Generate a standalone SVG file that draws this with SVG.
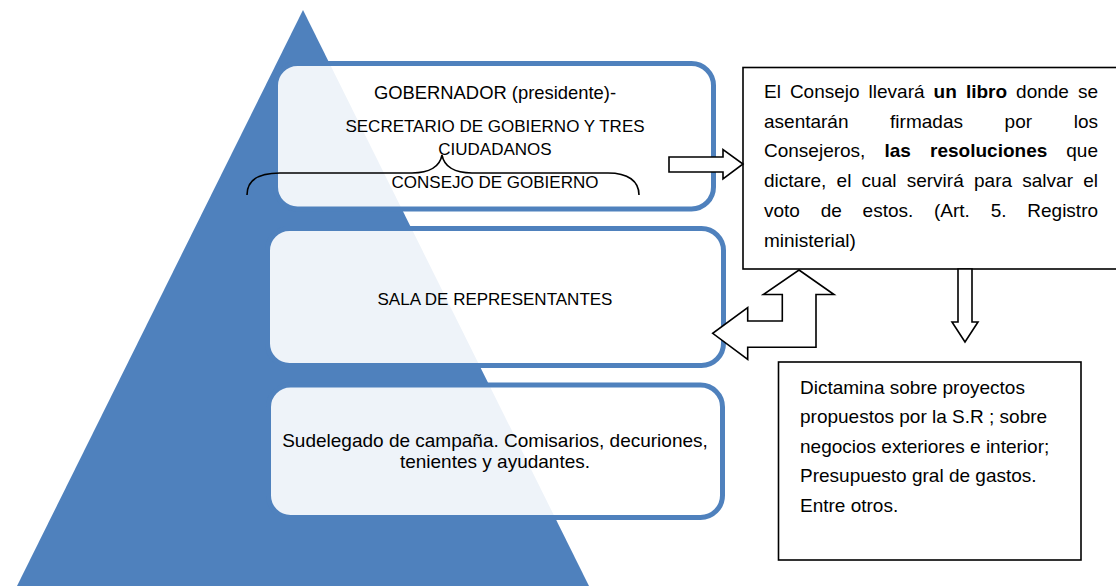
<svg xmlns="http://www.w3.org/2000/svg" width="1116" height="586" viewBox="0 0 1116 586">
<style>
text{font-family:"Liberation Sans",Arial,sans-serif;fill:#000}
.t{font-size:19px}
.c{font-size:17px;text-anchor:middle}
.m{font-size:19px;text-anchor:middle}
.b{font-weight:bold}
.tier{fill:#fff;fill-opacity:0.9;stroke:#4F81BD;stroke-width:5}
.box{fill:#fff;stroke:#000;stroke-width:1.6}
.arr{fill:#fff;stroke:#000;stroke-width:1.6;stroke-linejoin:miter}
</style>
<rect width="1116" height="586" fill="#fff"/>
<polygon id="pyramid" points="303,10 589,586 17,586" fill="#4F81BD"/>
<g id="tier1">
<rect class="tier" x="275.5" y="63.5" width="438" height="145.5" rx="22"/>
<text class="c" x="495" y="99" style="font-size:18.4px">GOBERNADOR (presidente)-</text>
<text class="c" x="495" y="132">SECRETARIO DE GOBIERNO Y TRES</text>
<text class="c" x="495" y="155">CIUDADANOS</text>
<text class="c" x="495" y="188">CONSEJO DE GOBIERNO</text>
<path d="M247,195 C247,181 258,173 280,173 L412,173 C430,173 440,166 442,155 C444,166 454,173 472,173 L608,173 C628,173 639,181 639,195" fill="none" stroke="#000" stroke-width="1.6"/>
</g>
<g id="tier2">
<rect class="tier" x="267.5" y="228.5" width="456" height="137" rx="22"/>
<text class="c" x="495" y="304.5">SALA DE REPRESENTANTES</text>
</g>
<g id="tier3">
<rect class="tier" x="268.5" y="385" width="454" height="132.5" rx="22"/>
<text class="m" x="495" y="446.5">Sudelegado de campaña. Comisarios, decuriones,</text>
<text class="m" x="495" y="468.3">tenientes y ayudantes.</text>
</g>
<g id="registro">
<rect class="box" x="743" y="67.5" width="390" height="201.5"/>
<text class="t" y="98"><tspan x="764">El</tspan><tspan x="789.9">Consejo</tspan><tspan x="868.6">llevará</tspan><tspan x="933.6" class="b">un</tspan><tspan x="965.9" class="b">libro</tspan><tspan x="1016.1">donde</tspan><tspan x="1077.9">se</tspan></text>
<text class="t" y="127.7"><tspan x="764">asentarán</tspan><tspan x="890.1">firmadas</tspan><tspan x="1004.6">por</tspan><tspan x="1073.7">los</tspan></text>
<text class="t" y="157.4"><tspan x="764">Consejeros,</tspan><tspan x="884.5" class="b">las</tspan><tspan x="930.1" class="b">resoluciones</tspan><tspan x="1066.3">que</tspan></text>
<text class="t" y="187.1"><tspan x="764">dictare,</tspan><tspan x="836.6">el</tspan><tspan x="861.6">cual</tspan><tspan x="906.7">servirá</tspan><tspan x="974">para</tspan><tspan x="1022.3">salvar</tspan><tspan x="1083.2">el</tspan></text>
<text class="t" y="216.8"><tspan x="764">voto</tspan><tspan x="820.7">de</tspan><tspan x="862.6">estos.</tspan><tspan x="934">(Art.</tspan><tspan x="990.7">5.</tspan><tspan x="1027.3">Registro</tspan></text>
<text class="t" x="764" y="246.5">ministerial)</text>
</g>
<g id="dictamina">
<rect class="box" x="778.5" y="362" width="302.5" height="198"/>
<text class="t" x="800" y="393.5">Dictamina sobre proyectos</text>
<text class="t" x="800" y="423">propuestos por la S.R ; sobre</text>
<text class="t" x="800" y="452.6">negocios exteriores e interior;</text>
<text class="t" x="800" y="482.2">Presupuesto gral de gastos.</text>
<text class="t" x="800" y="511.8">Entre otros.</text>
</g>
<g id="connectors">
<polygon class="arr" points="669,157 723,157 723,149.5 743,164 723,179 723,172 669,172"/>
<polygon class="arr" points="958,269 972,269 972,322 978,322 965,342 952,322 958,322"/>
<polygon class="arr" points="799,270 834,294.5 816,294.5 816,347.3 747.7,347.3 747.7,359.3 712.7,333.3 747.7,307.7 747.7,321 782.3,321 782.3,294.5 763.3,294.5"/>
</g>
</svg>
